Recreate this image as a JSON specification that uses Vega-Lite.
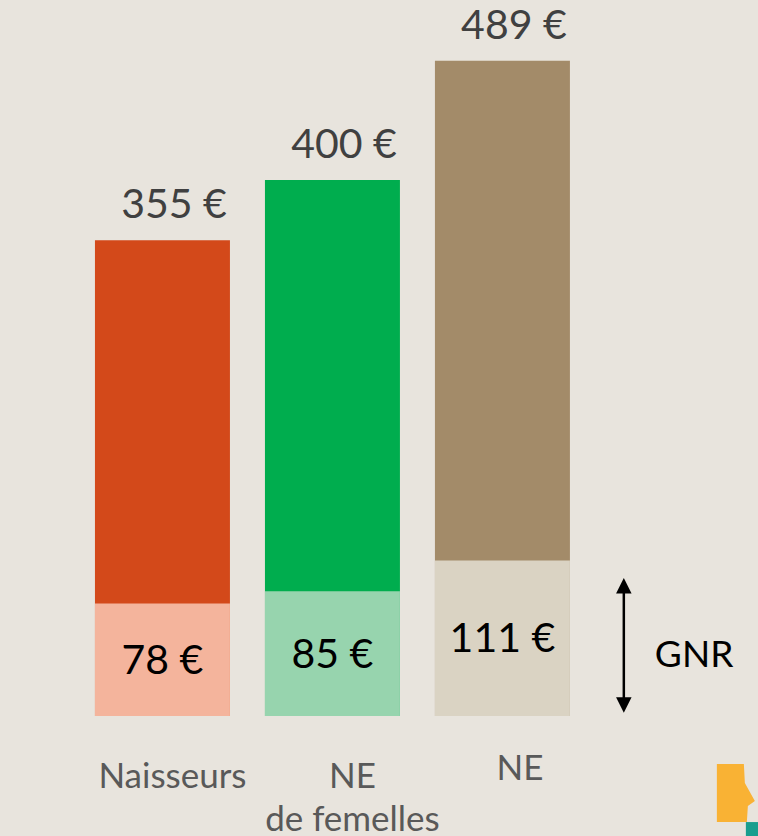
{
  "$schema": "https://vega.github.io/schema/vega-lite/v6.json",
  "width": 758,
  "height": 716,
  "autosize": {"type": "none"},
  "padding": {"left": 0, "top": 0, "right": 0, "bottom": 120},
  "background": "#E8E4DD",
  "config": {"view": {"stroke": null}, "font": "Lato"},
  "datasets": {
    "barres": [
      {"groupe": "Naisseurs", "total": 355, "total_libelle": "355 €", "gnr": 78, "gnr_libelle": "78 €", "gnr_hauteur": 84},
      {"groupe": "NE de femelles", "total": 400, "total_libelle": "400 €", "gnr": 85, "gnr_libelle": "85 €", "gnr_hauteur": 93},
      {"groupe": "NE", "total": 489, "total_libelle": "489 €", "gnr": 111, "gnr_libelle": "111 €", "gnr_hauteur": 116}
    ],
    "annotation": [{"etiquette": "GNR"}]
  },
  "data": {"name": "barres"},
  "resolve": {"scale": {"color": "independent"}},
  "layer": [
    {
      "mark": {"type": "bar"},
      "encoding": {
        "x": {
          "field": "groupe",
          "type": "nominal",
          "scale": {"domain": ["Naisseurs", "NE de femelles", "NE", "GNR"], "paddingInner": 0.2059, "paddingOuter": 0.3325, "align": 0.84, "round": false},
          "axis": {
            "title": null,
            "domain": false,
            "ticks": false,
            "tickSize": 0,
            "grid": false,
            "labelAngle": 0,
            "labelFont": "Lato",
            "labelFontSize": 35,
            "labelColor": "#595959",
            "labelPadding": {"condition": {"test": "datum.value == 'NE'", "value": 63}, "value": 71},
            "labelOffset": {"condition": [{"test": "datum.value == 'Naisseurs'", "value": 10}, {"test": "datum.value == 'NE'", "value": 17.5}], "value": 20},
            "labelBaseline": "alphabetic",
            "labelLineHeight": 43,
            "labelOverlap": false,
            "labelBound": false,
            "labelFlush": false,
            "labelExpr": "datum.value == 'NE de femelles' ? ['NE', 'de femelles'] : (datum.value == 'GNR' ? '' : datum.label)"
          }
        },
        "y": {"field": "total", "type": "quantitative", "scale": {"domain": [0, 534.3], "nice": false, "zero": true}, "axis": null},
        "color": {
          "field": "groupe",
          "type": "nominal",
          "scale": {"domain": ["Naisseurs", "NE de femelles", "NE"], "range": ["#D3491A", "#00AD4E", "#A38B69"]},
          "legend": null
        }
      }
    },
    {
      "mark": {"type": "bar"},
      "encoding": {
        "x": {"field": "groupe", "type": "nominal"},
        "y": {"field": "gnr_hauteur", "type": "quantitative"},
        "color": {
          "field": "groupe",
          "type": "nominal",
          "scale": {"domain": ["Naisseurs", "NE de femelles", "NE"], "range": ["#F4B49C", "#97D4AE", "#DAD3C3"]},
          "legend": null
        }
      }
    },
    {
      "mark": {"type": "text", "font": "Lato", "fontSize": 41, "color": "#404040", "align": "center", "baseline": "alphabetic", "dx": 11.5, "dy": -22},
      "encoding": {
        "x": {"field": "groupe", "type": "nominal"},
        "y": {"field": "total", "type": "quantitative"},
        "text": {"field": "total_libelle"}
      }
    },
    {
      "mark": {"type": "text", "font": "Lato", "fontSize": 41, "color": "#000000", "align": "center", "baseline": "middle", "dy": 2},
      "encoding": {
        "x": {"field": "groupe", "type": "nominal"},
        "y": {"field": "gnr_hauteur", "type": "quantitative", "stack": "zero", "bandPosition": 0.5},
        "text": {"field": "gnr_libelle"}
      }
    },
    {
      "data": {"name": "annotation"},
      "mark": {"type": "rule", "color": "#000000", "strokeWidth": 2.5},
      "encoding": {
        "x": {"datum": "GNR", "bandPosition": 0.14},
        "y": {"datum": 8},
        "y2": {"datum": 97}
      }
    },
    {
      "data": {"name": "annotation"},
      "mark": {"type": "point", "shape": "M0,-1L1,1L-1,1Z", "size": 240, "filled": true, "color": "#000000", "opacity": 1},
      "encoding": {
        "x": {"datum": "GNR", "bandPosition": 0.14},
        "y": {"datum": 97.2}
      }
    },
    {
      "data": {"name": "annotation"},
      "mark": {"type": "point", "shape": "M0,1L1,-1L-1,-1Z", "size": 240, "filled": true, "color": "#000000", "opacity": 1},
      "encoding": {
        "x": {"datum": "GNR", "bandPosition": 0.14},
        "y": {"datum": 8.2}
      }
    },
    {
      "data": {"name": "annotation"},
      "mark": {"type": "text", "font": "Lato", "fontSize": 37, "color": "#000000", "align": "left", "baseline": "alphabetic"},
      "encoding": {
        "x": {"datum": "GNR", "bandPosition": 0.37},
        "y": {"datum": 36.8},
        "text": {"field": "etiquette"}
      }
    },
    {
      "data": {"name": "annotation"},
      "mark": {"type": "point", "shape": "M-0.655,-1L0.276,-1L0.31,-0.345L0.655,0.276L0.414,0.448L0.379,1L-0.655,1Z", "size": 3364, "filled": true, "color": "#F9B234", "opacity": 1},
      "encoding": {
        "x": {"datum": "GNR", "bandPosition": 0.97},
        "y": {"datum": -57.5}
      }
    },
    {
      "data": {"name": "annotation"},
      "mark": {"type": "point", "shape": "square", "size": 576, "filled": true, "color": "#199E8E", "opacity": 1},
      "encoding": {
        "x": {"datum": "GNR", "bandPosition": 1.133},
        "y": {"datum": -88.1}
      }
    }
  ]
}
